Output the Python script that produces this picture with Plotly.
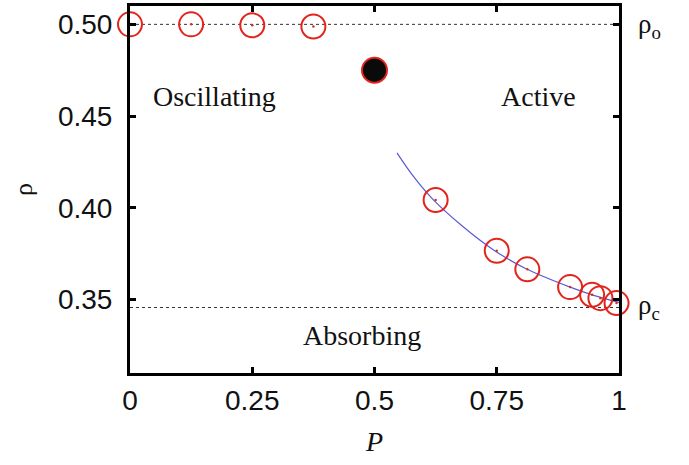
import plotly.graph_objects as go

# Data
p_pts = [0.0, 0.125, 0.25, 0.375, 0.625, 0.75, 0.8125, 0.9, 0.945, 0.962, 0.995]
rho_pts = [0.500, 0.500, 0.4995, 0.4988, 0.4043, 0.3766, 0.3665, 0.3568, 0.3526, 0.3508, 0.3481]

p_black = [0.5]
rho_black = [0.475]

# fitted curve
p_fit = [0.546, 0.58, 0.62, 0.68, 0.745, 0.81, 0.9, 0.95, 1.0]
rho_fit = [0.430, 0.417, 0.4045, 0.390, 0.3768, 0.3668, 0.3568, 0.3522, 0.3485]

rho_o = 0.50
rho_c = 0.3457

x_ticks = [0, 0.25, 0.5, 0.75, 1]
x_labels = ["0", "0.25", "0.5", "0.75", "1"]
y_ticks = [0.35, 0.40, 0.45, 0.50]
y_labels = ["0.35", "0.40", "0.45", "0.50"]

SERIF = "Liberation Serif, Times New Roman, serif"
SANS = "Liberation Sans, Arial, sans-serif"

fig = go.Figure()

# dotted reference lines
for r in (rho_o, rho_c):
    fig.add_trace(go.Scatter(x=[0, 1], y=[r, r], mode="lines",
                             line=dict(color="#333333", width=1, dash="dot"),
                             hoverinfo="skip", showlegend=False))

# fit curve
fig.add_trace(go.Scatter(x=p_fit, y=rho_fit, mode="lines",
                         line=dict(color="#5a5ad6", width=1.2, shape="spline"),
                         showlegend=False))

# red open circles
fig.add_trace(go.Scatter(x=p_pts, y=rho_pts, mode="markers",
                         marker=dict(symbol="circle-open", size=24,
                                     color="#e3241c", line=dict(width=2, color="#e3241c")),
                         cliponaxis=False, showlegend=False))
# small center dots
fig.add_trace(go.Scatter(x=p_pts, y=rho_pts, mode="markers",
                         marker=dict(symbol="circle", size=2.5, color="#d0302a"),
                         cliponaxis=False, showlegend=False))

# black filled point
fig.add_trace(go.Scatter(x=p_black, y=rho_black, mode="markers",
                         marker=dict(symbol="circle", size=25, color="#0a0a0a",
                                     line=dict(width=2, color="#e3241c")),
                         cliponaxis=False, showlegend=False))

annots = [
    dict(x=0.172, y=0.4605, text="Oscillating"),
    dict(x=0.835, y=0.4605, text="Active"),
    dict(x=0.475, y=0.3305, text="Absorbing"),
]
for a in annots:
    fig.add_annotation(x=a["x"], y=a["y"], text=a["text"], showarrow=False,
                       xref="x", yref="y",
                       font=dict(family=SERIF, size=28, color="#111111"))

fig.add_annotation(x=1.035, y=rho_o - 0.001, xref="paper", yref="y", xanchor="left",
                   text="ρ<sub>o</sub>", showarrow=False,
                   font=dict(family=SERIF, size=27, color="#111111"))
fig.add_annotation(x=1.035, y=rho_c, xref="paper", yref="y", xanchor="left",
                   text="ρ<sub>c</sub>", showarrow=False,
                   font=dict(family=SERIF, size=27, color="#111111"))

axis_common = dict(showline=True, linecolor="black", linewidth=3, mirror="allticks",
                   ticks="inside", ticklen=6, tickwidth=3, tickcolor="black",
                   showgrid=False, zeroline=False, automargin=False)

fig.update_xaxes(range=[0, 1], tickvals=x_ticks, ticktext=x_labels,
                 tickfont=dict(family=SANS, size=28, color="#111111"),
                 title=dict(text="<i>P</i>", font=dict(family=SERIF, size=28, color="#111111"),
                            standoff=17),
                 **axis_common)
fig.update_yaxes(range=[0.31, 0.51], tickvals=y_ticks, ticktext=y_labels,
                 tickfont=dict(family=SANS, size=28, color="#111111"),
                 ticklabelstandoff=9,
                 title=dict(text="ρ", font=dict(family=SERIF, size=26, color="#111111"),
                            standoff=18),
                 **axis_common)

fig.update_layout(width=689, height=465,
                  margin=dict(l=130, r=70, t=6, b=92),
                  paper_bgcolor="white", plot_bgcolor="white",
                  showlegend=False)

fig.write_html("out.html", config={"displayModeBar": False},
               post_script="document.body.style.margin='0';")
